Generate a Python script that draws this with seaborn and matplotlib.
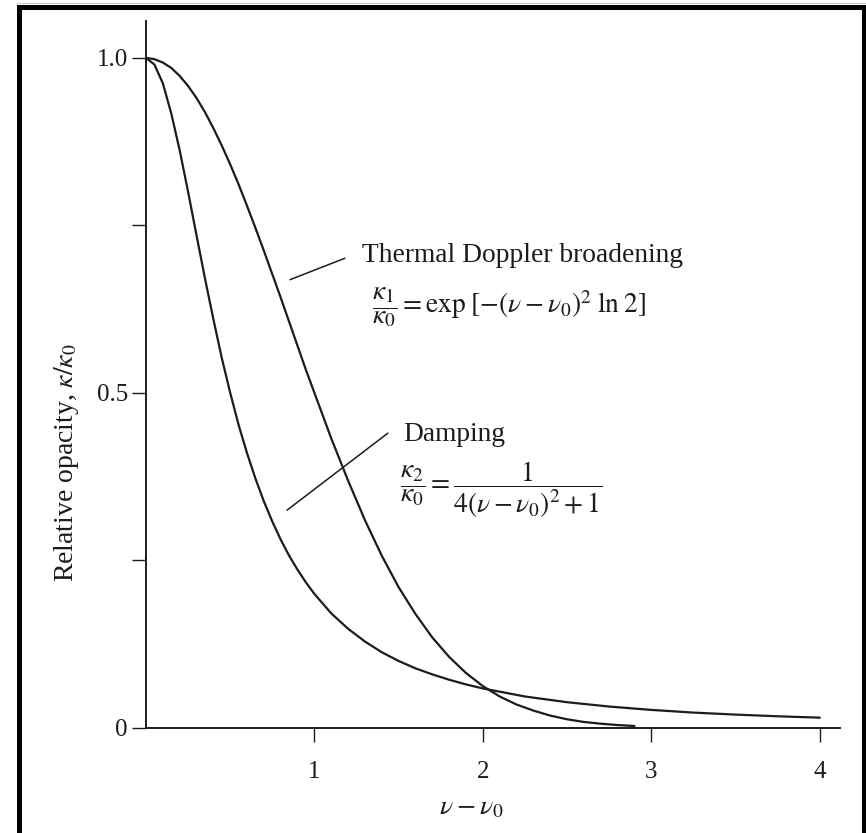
import matplotlib
matplotlib.use("Agg")
import matplotlib.pyplot as plt
import pandas as pd
import seaborn as sns
from matplotlib.lines import Line2D

# values
nu_thermal = [0.0, 0.05, 0.1, 0.15, 0.2, 0.25, 0.3, 0.35, 0.4, 0.45, 0.5,
              0.55, 0.6, 0.65, 0.7, 0.75, 0.8, 0.85, 0.9, 0.95, 1.0,
              1.1, 1.2, 1.3, 1.4, 1.5, 1.6, 1.7, 1.8, 1.9, 2.0,
              2.1, 2.2, 2.3, 2.4, 2.5, 2.6, 2.7, 2.8, 2.9]
kappa_thermal = [1.000, 0.998, 0.993, 0.985, 0.973, 0.958, 0.940, 0.919, 0.895, 0.869, 0.841,
                 0.811, 0.779, 0.746, 0.712, 0.677, 0.642, 0.606, 0.570, 0.534, 0.500,
                 0.432, 0.369, 0.310, 0.257, 0.210, 0.170, 0.135, 0.106, 0.082, 0.0625,
                 0.047, 0.035, 0.026, 0.0185, 0.013, 0.009, 0.0064, 0.0044, 0.003]

nu_damping = [0.0, 0.05, 0.1, 0.15, 0.2, 0.25, 0.3, 0.35, 0.4, 0.45, 0.5,
              0.55, 0.6, 0.65, 0.7, 0.75, 0.8, 0.85, 0.9, 0.95, 1.0,
              1.1, 1.2, 1.3, 1.4, 1.5, 1.6, 1.7, 1.8, 1.9, 2.0,
              2.25, 2.5, 2.75, 3.0, 3.25, 3.5, 3.75, 4.0]
kappa_damping = [1.000, 0.990, 0.962, 0.917, 0.862, 0.800, 0.735, 0.671, 0.610, 0.552, 0.500,
                 0.452, 0.410, 0.372, 0.338, 0.308, 0.281, 0.257, 0.236, 0.217, 0.200,
                 0.171, 0.148, 0.129, 0.113, 0.100, 0.089, 0.080, 0.072, 0.065, 0.059,
                 0.047, 0.0385, 0.032, 0.027, 0.023, 0.020, 0.0175, 0.0154]

y_ticks = [0, 0.25, 0.5, 0.75, 1.0]
y_ticklabels = ["0", "", "0.5", "", "1.0"]
x_ticks = [1, 2, 3, 4]
x_ticklabels = ["1", "2", "3", "4"]

thermal_df = pd.DataFrame({"nu": nu_thermal, "kappa": kappa_thermal})
damping_df = pd.DataFrame({"nu": nu_damping, "kappa": kappa_damping})

sns.set_style("white")
plt.rcParams["font.family"] = ["Liberation Serif", "DejaVu Serif"]
plt.rcParams["mathtext.fontset"] = "stix"

ink = "#1c1c1c"

fig = plt.figure(figsize=(8.66, 8.33), dpi=100)
ax = fig.add_axes([146 / 866, 105 / 833, 694 / 866, 707 / 833])

sns.lineplot(data=thermal_df, x="nu", y="kappa", sort=False, estimator=None,
             color=ink, linewidth=1.6, ax=ax)
sns.lineplot(data=damping_df, x="nu", y="kappa", sort=False, estimator=None,
             color=ink, linewidth=1.6, ax=ax)

ax.set_xlim(0, 4.12)
ax.set_ylim(0, 1.055)
sns.despine(ax=ax)
for side in ["left", "bottom"]:
    ax.spines[side].set_color(ink)
    ax.spines[side].set_linewidth(1.4)

ax.set_yticks(y_ticks)
ax.set_yticklabels(y_ticklabels)
ax.set_xticks(x_ticks)
ax.set_xticklabels(x_ticklabels)
ax.tick_params(axis="both", direction="out", length=10, width=1, colors=ink,
               labelsize=18, labelcolor=ink, bottom=True, left=True)
ax.tick_params(axis="x", pad=14)
ax.tick_params(axis="y", pad=3)

ax.set_xlabel(r"$\nu - \nu_0$", fontsize=20, color=ink)
ax.xaxis.set_label_coords(0.468, -0.113)
ax.xaxis.label.set_va("center")
ax.set_ylabel(r"Relative opacity, $\kappa/\kappa_0$", fontsize=20, color=ink)
ax.yaxis.set_label_coords(-0.115, 0.376)
ax.yaxis.label.set_va("center")

# annotations with pointer lines
ax.plot([0.855, 1.181], [0.669, 0.701], color=ink, linewidth=1.1)
ax.plot([0.837, 1.436], [0.325, 0.440], color=ink, linewidth=1.1)

ax.text(1.282, 0.6955, "Thermal Doppler broadening", fontsize=19.8, color=ink,
        ha="left", va="baseline")
ax.text(1.341, 0.619, r"$\dfrac{\kappa_1}{\kappa_0} = \mathrm{exp}\;[-(\nu-\nu_0)^2\;\mathrm{ln}\;2]$",
        fontsize=19.8, color=ink, ha="left", va="baseline")
ax.text(1.525, 0.428, "Damping", fontsize=19.8, color=ink, ha="left", va="baseline")
ax.text(1.507, 0.352, r"$\dfrac{\kappa_2}{\kappa_0} = \dfrac{1}{4(\nu-\nu_0)^2 + 1}$",
        fontsize=19.8, color=ink, ha="left", va="baseline")

# black frame around the picture
frame = dict(color="black", linewidth=3.6, transform=fig.transFigure, solid_capstyle="projecting")
fig.add_artist(Line2D([19 / 866, 19 / 866], [0, 1 - 6.5 / 833], **frame))
fig.add_artist(Line2D([19 / 866, 1], [1 - 6.5 / 833, 1 - 6.5 / 833], **frame))
fig.add_artist(Line2D([864 / 866, 864 / 866], [0, 1 - 6.5 / 833], **frame))
fig.add_artist(Line2D([17 / 866, 1], [1 - 3 / 833, 1 - 3 / 833], color="#b5d6b5",
                      linewidth=0.8, transform=fig.transFigure))

fig.savefig("out.png", dpi=100)
